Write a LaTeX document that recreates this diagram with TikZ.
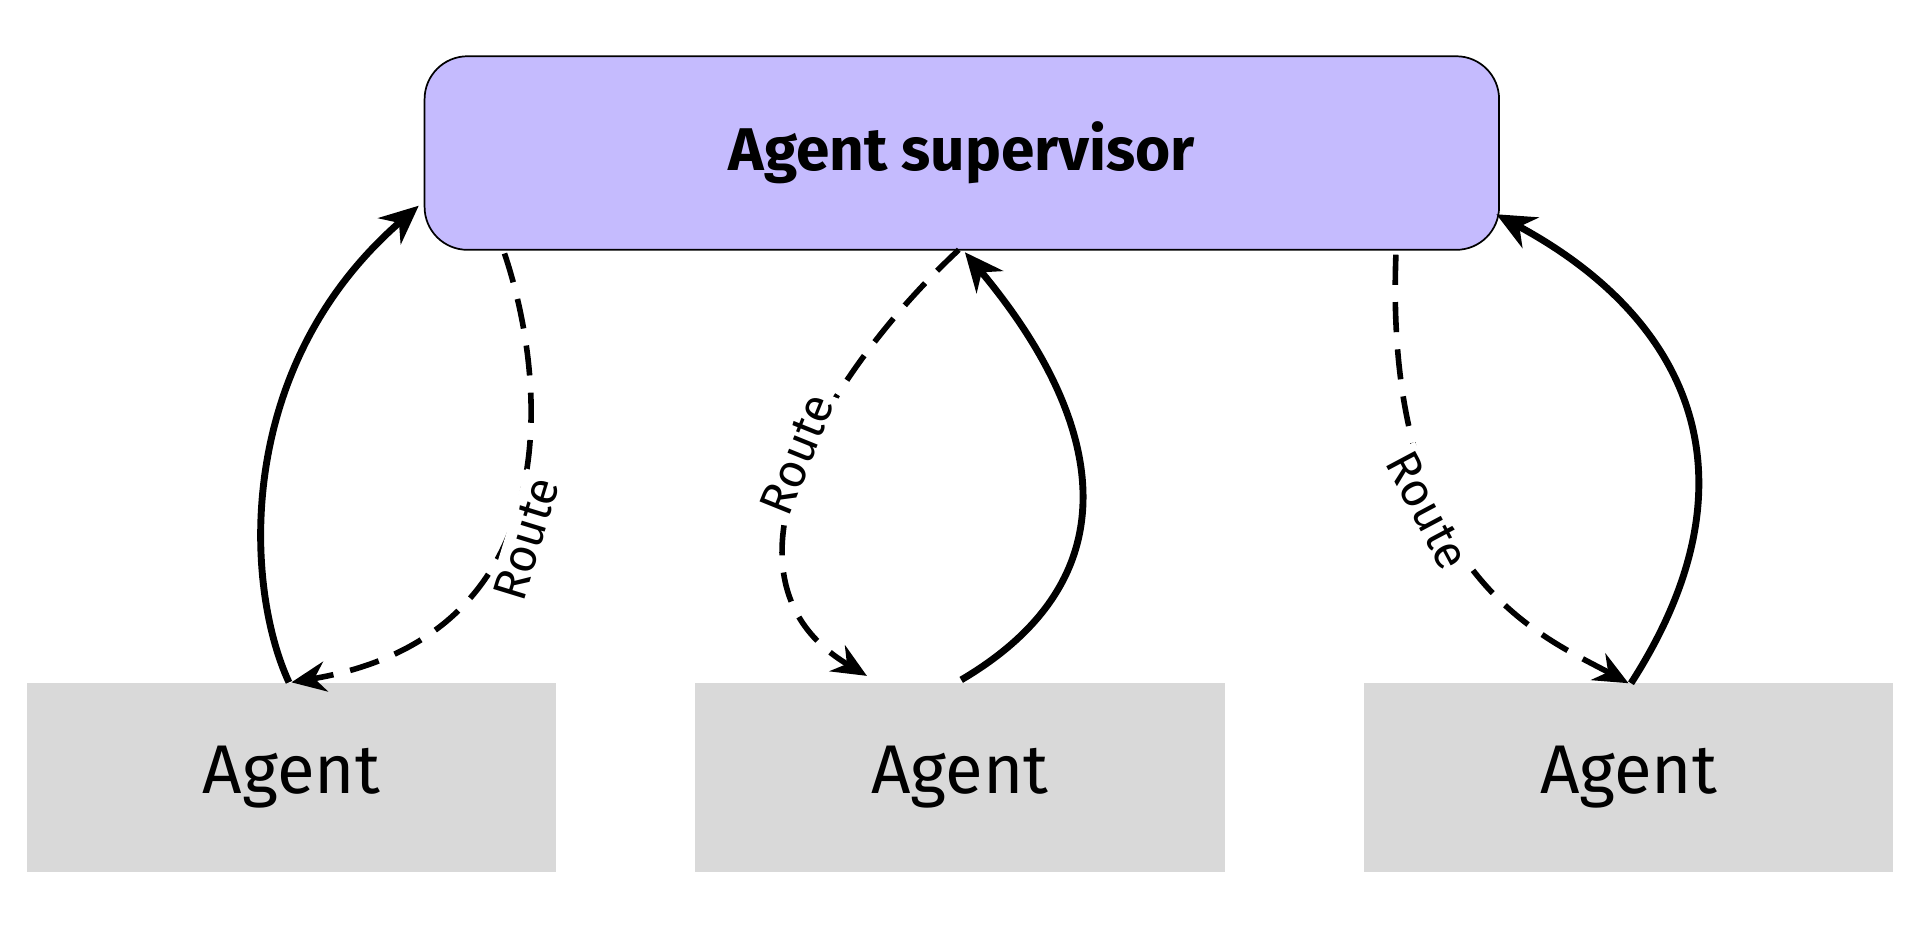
\documentclass[tikz,border=0pt]{standalone}
\usepackage{fontspec}
\setmainfont{Fira Sans}
\usetikzlibrary{arrows.meta}
\begin{document}
\begin{tikzpicture}[x=0.01cm,y=-0.01cm,
  sup/.style={draw=black,line width=0.4pt,fill=supc,rounded corners=0.35cm,minimum width=8.77cm,minimum height=1.58cm,font=\bfseries\fontsize{14}{17}\selectfont},
  agent/.style={fill=agc,minimum width=4.32cm,minimum height=1.54cm,font=\fontsize{16}{19}\selectfont},
  solid arrow/.style={line width=1.6pt,-{Stealth[length=9pt,width=8pt]}},
  route/.style={line width=1.3pt,dash pattern=on 7pt off 4pt,-{Stealth[length=8pt,width=7pt]}},
  lbl/.style={fill=white,inner sep=1pt,font=\fontsize{11}{13}\selectfont}]
\definecolor{supc}{HTML}{C5BBFE}
\definecolor{agc}{HTML}{D9D9D9}
\useasboundingbox (0,0) rectangle (1568,765);
\node[sup] (s) at (785.5,125) {Agent supervisor};
\node[agent] (a1) at (238,635) {Agent};
\node[agent] (a2) at (784,635) {Agent};
\node[agent] (a3) at (1330,635) {Agent};
\coordinate (s1) at (342,168);
\coordinate (s2) at (412,207);
\coordinate (s3) at (783,204);
\coordinate (s4) at (788,206);
\coordinate (s5) at (1140,208);
\coordinate (s6) at (1222,175);
\draw[solid arrow] (a1.north) ++(-2,0) .. controls (200,480) and (190,300) .. (s1);
\draw[route] (s2) .. controls (450,320) and (460,520) .. ([xshift=0pt]a1.north);
\draw[route] (s3) .. controls (680,300) and (570,470) .. (708,552);
\draw[solid arrow] (a2.north) ++(1,-2) .. controls (930,470) and (900,340) .. (s4);
\draw[route] (s5) .. controls (1130,470) and (1260,520) .. (1330,558);
\draw[solid arrow] (1332,558) .. controls (1440,390) and (1380,260) .. (s6);
\node[lbl,rotate=73] at (430,440) {Route};
\node[lbl,rotate=68] at (651,371) {Route};
\node[lbl,rotate=-62] at (1166,417) {Route};
\end{tikzpicture}
\end{document}
